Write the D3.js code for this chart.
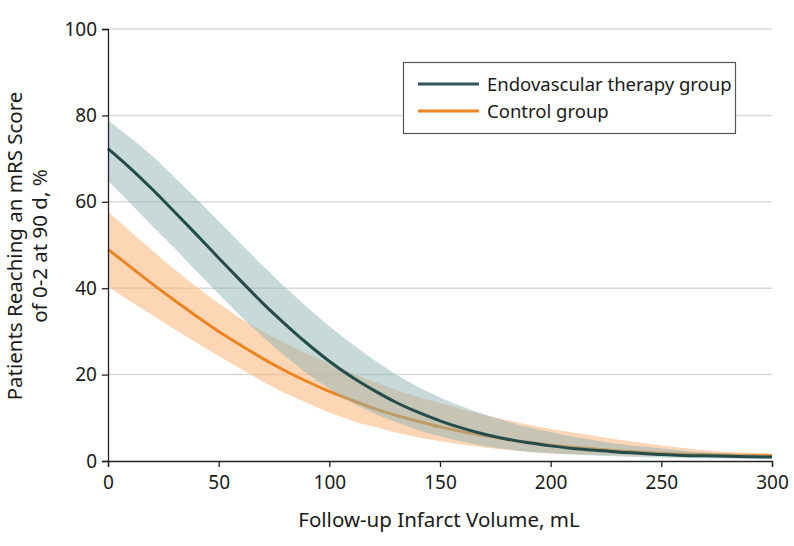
<!DOCTYPE html>
<html>
<head>
<meta charset="utf-8">
<script src="https://cdn.jsdelivr.net/npm/d3@7"></script>
<style>
  body { margin: 0; background: #fff; }
  svg text { font-family: "Noto Sans", sans-serif; fill: #1a1a1a; }
</style>
</head>
<body>
<svg id="chart"></svg>
<script>
// follow-up infarct volume, mL
let volume = [0, 10, 20, 30, 40, 50, 60, 70, 80, 90, 100, 110, 120, 130, 140, 150,
              160, 170, 180, 190, 200, 210, 220, 230, 240, 250, 260, 270, 280, 290, 300];

// endovascular therapy group, %
let evtMean = [72.3, 67.8, 62.9, 57.7, 52.4, 47.0, 41.7, 36.5, 31.7, 27.2, 23.1, 19.5, 16.4, 13.6, 11.3, 9.3,
               7.6, 6.2, 5.1, 4.2, 3.5, 2.9, 2.5, 2.1, 1.8, 1.5, 1.3, 1.2, 1.1, 1.0, 0.9];
let evtUpper = [78.8, 74.9, 70.6, 65.7, 60.7, 55.5, 50.3, 45.2, 40.2, 35.6, 31.2, 27.2, 23.5, 20.1, 17.2, 14.7,
                12.6, 10.8, 9.2, 7.8, 6.7, 5.6, 4.8, 4.0, 3.4, 2.9, 2.4, 2.0, 1.7, 1.5, 1.3];
let evtLower = [64.8, 59.7, 54.4, 49.3, 43.9, 38.7, 33.5, 28.7, 24.3, 20.2, 16.7, 13.6, 11.1, 9.0, 7.2, 5.7,
                4.5, 3.5, 2.7, 2.1, 1.8, 1.5, 1.3, 1.1, 0.9, 0.8, 0.7, 0.6, 0.6, 0.5, 0.5];

// control group, %
let ctlMean = [49.0, 45.0, 41.0, 37.2, 33.5, 30.0, 26.8, 23.7, 20.9, 18.4, 16.1, 14.1, 12.2, 10.6, 9.2, 7.9,
               6.8, 5.9, 5.0, 4.3, 3.7, 3.2, 2.8, 2.4, 2.1, 1.8, 1.6, 1.5, 1.4, 1.3, 1.2];
let ctlUpper = [57.7, 53.2, 48.7, 44.4, 40.3, 36.5, 33.0, 30.0, 27.3, 24.8, 22.6, 20.4, 18.4, 16.5, 14.9, 13.4,
                12.0, 10.6, 9.5, 8.4, 7.4, 6.6, 5.8, 5.0, 4.3, 3.6, 3.0, 2.5, 2.1, 1.9, 1.7];
let ctlLower = [40.4, 37.0, 33.8, 30.5, 27.4, 24.3, 21.3, 18.4, 15.7, 13.4, 11.2, 9.4, 7.9, 6.6, 5.5, 4.6,
                3.8, 3.1, 2.6, 2.2, 1.8, 1.6, 1.5, 1.4, 1.3, 1.2, 1.1, 1.0, 1.0, 0.9, 0.9];

let xTicks = [0, 50, 100, 150, 200, 250, 300];
let yTicks = [0, 20, 40, 60, 80, 100];
let seriesNames = ["Endovascular therapy group", "Control group"];

let margin = {top: 29, right: 22, bottom: 85, left: 108},
    width = 794 - margin.left - margin.right,
    height = 546 - margin.top - margin.bottom;

let svg = d3.select("#chart").attr("width", 794).attr("height", 546);
let paper = svg.append("g").attr("transform", "translate(" + margin.left + "," + margin.top + ")");

let x = d3.scaleLinear().domain([0, 300]).range([0, width]);
let y = d3.scaleLinear().domain([0, 100]).range([height, 0]);

// gridlines
paper.selectAll(".grid").data(yTicks.filter(d => d > 0)).enter()
    .append("line")
    .attr("x1", 0).attr("x2", width)
    .attr("y1", d => y(d)).attr("y2", d => y(d))
    .style("stroke", "#d9d9d9").style("stroke-width", 1.5);

let area = (lo, hi) => d3.area()
    .x((d, i) => x(volume[i]))
    .y0((d, i) => y(lo[i]))
    .y1((d, i) => y(hi[i]))
    .curve(d3.curveMonotoneX);
let line = vals => d3.line()
    .x((d, i) => x(volume[i]))
    .y((d, i) => y(vals[i]))
    .curve(d3.curveMonotoneX);

// control band + line
paper.append("path").datum(volume).attr("d", area(ctlLower, ctlUpper))
    .style("fill", "#fbb57a").style("opacity", 0.55);
paper.append("path").datum(volume).attr("d", line(ctlMean))
    .style("fill", "none").style("stroke", "#ec8420").style("stroke-width", 3);

// endovascular band + line
paper.append("path").datum(volume).attr("d", area(evtLower, evtUpper))
    .style("fill", "#8fb3b3").style("opacity", 0.5);
paper.append("path").datum(volume).attr("d", line(evtMean))
    .style("fill", "none").style("stroke", "#244c4a").style("stroke-width", 3);

// axes
let xAxis = paper.append("g").attr("transform", "translate(0," + height + ")")
    .call(d3.axisBottom(x).tickValues(xTicks).tickSize(6).tickPadding(9));
let yAxis = paper.append("g")
    .call(d3.axisLeft(y).tickValues(yTicks).tickSize(6).tickPadding(5));
[xAxis, yAxis].forEach(a => {
    a.select(".domain").style("stroke", "#222").style("stroke-width", 1.3);
    a.selectAll(".tick line").style("stroke", "#222").style("stroke-width", 1.3);
    a.selectAll(".tick text").style("font-size", "19px").style("font-family", "Noto Sans, sans-serif").style("fill", "#1a1a1a");
});

// axis titles
svg.append("text")
    .attr("x", margin.left + width / 2 - 1).attr("y", 527)
    .attr("text-anchor", "middle").style("font-size", "20.5px")
    .text("Follow-up Infarct Volume, mL");
let yt = svg.append("text")
    .attr("transform", "translate(22,246) rotate(-90)")
    .attr("text-anchor", "middle").style("font-size", "20.5px");
yt.append("tspan").attr("x", 0).attr("y", 0).text("Patients Reaching an mRS Score");
yt.append("tspan").attr("x", 0).attr("y", 25).text("of 0-2 at 90 d, %");

// legend
let legend = svg.append("g");
legend.append("rect").attr("x", 403.5).attr("y", 62.5).attr("width", 332).attr("height", 71)
    .style("fill", "#fff").style("stroke", "#555").style("stroke-width", 1.2);
let legendColors = ["#2f5555", "#ec8420"];
seriesNames.forEach((name, i) => {
    legend.append("line").attr("x1", 418).attr("x2", 479)
        .attr("y1", 84 + i * 27).attr("y2", 84 + i * 27)
        .style("stroke", legendColors[i]).style("stroke-width", 3);
    legend.append("text").attr("x", 487).attr("y", 91 + i * 27)
        .style("font-size", "18.5px").text(name);
});
</script>
</body>
</html>
